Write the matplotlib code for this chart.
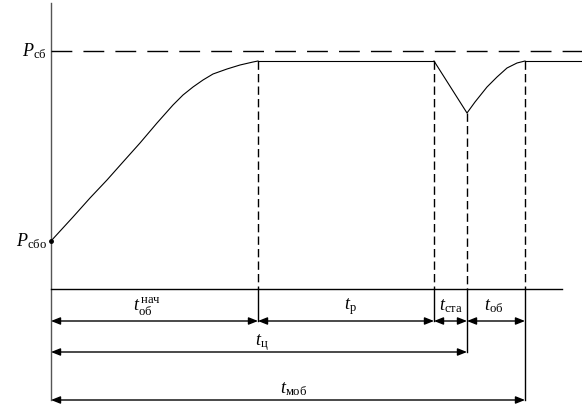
import matplotlib
matplotlib.use("Agg")
import matplotlib.pyplot as plt

plt.rcParams['mathtext.fontset'] = 'custom'
plt.rcParams['mathtext.rm'] = 'Liberation Serif'
plt.rcParams['mathtext.it'] = 'Liberation Serif:italic'
plt.rcParams['font.family'] = ['Liberation Serif', 'DejaVu Serif']

# ---- data (time, pressure; schematic units) ----
P_sbo = 0.0          # initial pressure
P_sb = 190.0         # nominal pressure level (dashed)
P_plateau = 180.0    # reached plateau
# rise phase
rise_t = [0, 22, 39, 56, 72, 89, 106, 122, 132, 142, 152, 162, 176, 189, 202, 207]
rise_p = [0, 24, 43, 61, 79, 98, 118, 136, 146, 154, 161, 167, 172, 176, 179, 180]
# dip phase
dip_t = [383, 416, 424, 436, 446, 456, 466, 474]
dip_p = [180, 128, 139, 154, 164, 173, 178, 180]
# time marks
t_nach = 207     # end of initial build-up
t_ost = 383      # start of stop
t_c = 416        # end of cycle
t_mob = 474      # end of recovery
t_end = 531
base_p = -48     # time axis baseline
row_p = [-80, -111, -159]
axis_top = 238

labels_row1 = [r'$t_{\mathrm{об}}^{\,\mathrm{нач}}$', r'$t_{\mathrm{р}}$',
               r'$t_{\mathrm{ста}}$', r'$t_{\mathrm{об}}$']

fig = plt.figure(figsize=(5.82, 4.15), dpi=100)
ax = fig.add_axes([0, 0, 1, 1])
ax.set_xlim(-51, 531)
ax.set_ylim(-174, 241)
ax.axis('off')

lw = 0.8
# vertical axis
ax.plot([0, 0], [row_p[2], axis_top], color='#555555', lw=1.0)
# nominal dashed level
ax.plot([0, t_end], [P_sb, P_sb], color='black', lw=1.0, dashes=(15, 8))
# curve
ax.plot(rise_t, rise_p, color='black', lw=lw)
ax.plot([t_nach, t_ost], [P_plateau, P_plateau], color='black', lw=lw)
ax.plot(dip_t, dip_p, color='black', lw=lw)
ax.plot([t_mob, t_end], [P_plateau, P_plateau], color='black', lw=lw)
ax.plot([0], [P_sbo], 'o', color='black', ms=2.5)

# baseline
ax.plot([0, 511], [base_p, base_p], color='black', lw=1.0)

# vertical markers
vd = (6, 3)
for t, ptop, pbot in [(t_nach, P_plateau, row_p[0]), (t_ost, P_plateau, row_p[0]),
                      (t_c, 128, row_p[1]), (t_mob, P_plateau, row_p[2])]:
    ax.plot([t, t], [ptop, base_p], color='black', lw=1.0, dashes=vd)
    ax.plot([t, t], [base_p, pbot], color='black', lw=1.0)

def darrow(x0, x1, y):
    ax.annotate('', xy=(x1, y), xytext=(x0, y),
                arrowprops=dict(arrowstyle='<|-|>,head_length=0.55,head_width=0.22',
                                color='black', lw=1.0, shrinkA=0, shrinkB=0))

row1_edges = [0, t_nach, t_ost, t_c, t_mob]
for a, b in zip(row1_edges[:-1], row1_edges[1:]):
    darrow(a, b, row_p[0])
darrow(0, t_c, row_p[1])
darrow(0, t_mob, row_p[2])

fs = 13
ax.text(-4, P_sb, r'$P_{\mathrm{сб}}$', ha='right', va='center', fontsize=fs)
ax.text(-4, P_sbo, r'$P_{\mathrm{сбо}}$', ha='right', va='center', fontsize=fs)
row1_pos = [(96, -66), (299, -66), (400, -65), (443, -65)]
for (x, y), s in zip(row1_pos, labels_row1):
    ax.text(x, y, s, ha='center', va='center', fontsize=fs)
ax.text(211, -102, r'$t_{\mathrm{ц}}$', ha='center', va='center', fontsize=fs)
ax.text(243, -148, r'$t_{\mathrm{моб}}$', ha='center', va='center', fontsize=fs)

fig.savefig('out.png', dpi=100)
